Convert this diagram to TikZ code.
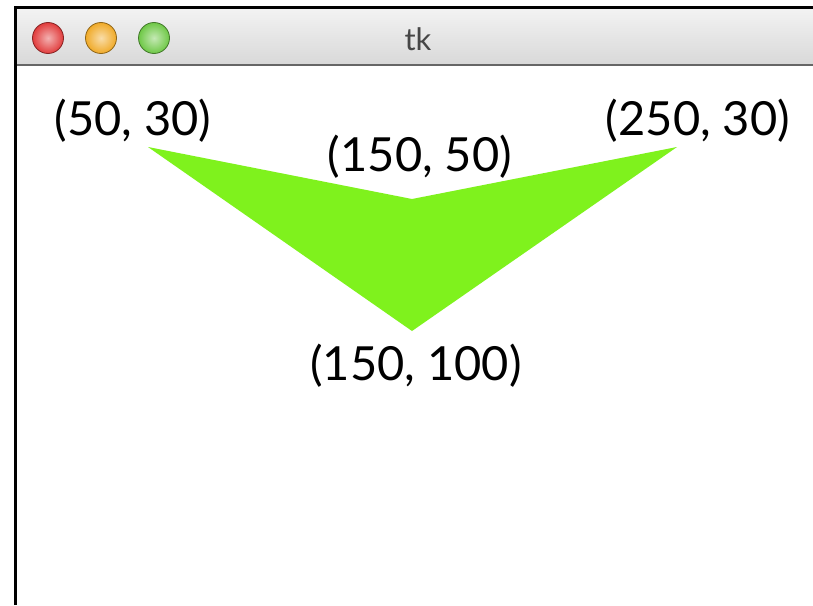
\documentclass[tikz,border=0pt]{standalone}
\usepackage{fontspec}
\setmainfont{Lato}
\usetikzlibrary{shadings}
\definecolor{lgreen}{RGB}{127,242,29}
\definecolor{titletxt}{RGB}{70,70,70}
\tikzset{
  coordlabel/.style={font=\fontsize{47}{53}\selectfont, inner sep=0pt, text=black},
  winbtn/.style={circle, minimum size=31pt, inner sep=0pt, draw=#1!60!black, line width=0.8pt, inner color=#1!40!white, outer color=#1},
}
\begin{document}
\begin{tikzpicture}[x=1pt,y=-1pt]
\useasboundingbox (0,0) rectangle (813,605);
\fill[white] (0,0) rectangle (813,605);
% title bar
\shade[top color=gray!10, bottom color=gray!30] (16,9) rectangle (813,64);
\draw[gray!80!black, line width=1.5pt] (16,65) -- (813,65);
\draw[black, line width=3pt] (15,605) -- (15,7.5) -- (813,7.5);
% buttons
\definecolor{bred}{RGB}{225,60,60}
\definecolor{borange}{RGB}{240,170,40}
\definecolor{bgreen}{RGB}{110,200,70}
\node[winbtn=bred] (close) at (48,38) {};
\node[winbtn=borange] (min) at (101,38) {};
\node[winbtn=bgreen] (zoom) at (154,38) {};
\node[font=\fontsize{31}{35}\selectfont, text=titletxt] (title) at (418,39) {tk};
% polygon
\coordinate (p1) at (148,147);
\coordinate (p2) at (412,199);
\coordinate (p3) at (677,147);
\coordinate (p4) at (412,331);
\fill[lgreen] (p1) -- (p2) -- (p3) -- (p4) -- cycle;
% labels
\node[coordlabel] (l1) at (133,121) {(50, 30)};
\node[coordlabel] (l2) at (420,157) {(150, 50)};
\node[coordlabel] (l3) at (698,121) {(250, 30)};
\node[coordlabel] (l4) at (416,366) {(150, 100)};
\end{tikzpicture}
\end{document}
